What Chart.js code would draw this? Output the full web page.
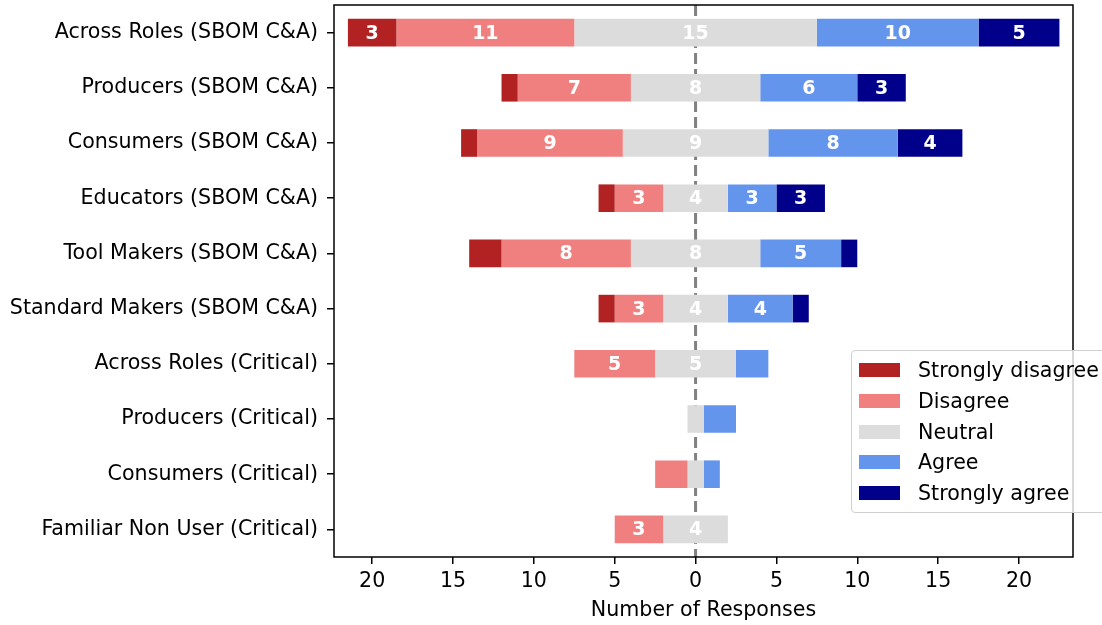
<!DOCTYPE html>
<html>
<head>
<meta charset="utf-8">
<script src="https://cdn.jsdelivr.net/npm/chart.js@4/dist/chart.umd.min.js"></script>
<style>
  html, body { margin: 0; padding: 0; background: #fff; overflow: hidden; }
  #wrap { position: relative; width: 1102px; height: 625px; }
  #legend {
    position: absolute; left: 851px; top: 350px; width: 270px; height: 161px;
    border: 1px solid #d0d0d0; border-radius: 4px; background: rgba(255,255,255,0.8);
    font-family: "DejaVu Sans", sans-serif; font-size: 20.6px; color: #000;
  }
  .item { position: absolute; left: 0; height: 24px; }
  .swatch { position: absolute; left: 7px; top: 5px; width: 41px; height: 14px; }
  .label { position: absolute; left: 66px; top: 0; line-height: 24px; white-space: nowrap; }
</style>
</head>
<body>
<div id="wrap">
  <canvas id="likertChart" width="1102" height="625"></canvas>
  <div id="legend"></div>
</div>
<script>
const categories = [
  "Across Roles (SBOM C&A)",
  "Producers (SBOM C&A)",
  "Consumers (SBOM C&A)",
  "Educators (SBOM C&A)",
  "Tool Makers (SBOM C&A)",
  "Standard Makers (SBOM C&A)",
  "Across Roles (Critical)",
  "Producers (Critical)",
  "Consumers (Critical)",
  "Familiar Non User (Critical)"
];
const responseLabels = ["Strongly disagree", "Disagree", "Neutral", "Agree", "Strongly agree"];
const responseColors = ["#b22222", "#f08080", "#dcdcdc", "#6495ed", "#00008b"];

const stronglyDisagree = [3, 1, 1, 1, 2, 1, 0, 0, 0, 0];
const disagree         = [11, 7, 9, 3, 8, 3, 5, 0, 2, 3];
const neutral          = [15, 8, 9, 4, 8, 4, 5, 1, 1, 4];
const agree            = [10, 6, 8, 3, 5, 4, 2, 2, 1, 0];
const stronglyAgree    = [5, 3, 4, 3, 1, 1, 0, 0, 0, 0];

const xTicks = [-20, -15, -10, -5, 0, 5, 10, 15, 20];

const counts = [stronglyDisagree, disagree, neutral, agree, stronglyAgree];

// start of each segment, neutral centred on zero
function segmentStart(k, j) {
  const half = neutral[j] / 2;
  if (k === 0) return -(half + disagree[j] + stronglyDisagree[j]);
  if (k === 1) return -(half + disagree[j]);
  if (k === 2) return -half;
  if (k === 3) return half;
  return half + agree[j];
}

const datasets = counts.map((vals, k) => ({
  label: responseLabels[k],
  data: vals.map((v, j) => v > 0 ? [segmentStart(k, j), segmentStart(k, j) + v] : null),
  backgroundColor: responseColors[k],
  borderWidth: 0,
  grouped: false,
  categoryPercentage: 1,
  barPercentage: 0.5
}));

const zeroLine = {
  id: "zeroLine",
  beforeDatasetsDraw(chart) {
    const { ctx, chartArea, scales } = chart;
    const x = scales.x.getPixelForValue(0);
    ctx.save();
    ctx.strokeStyle = "#808080";
    ctx.lineWidth = 3;
    ctx.setLineDash([11, 5]);
    ctx.beginPath();
    ctx.moveTo(x, chartArea.top);
    ctx.lineTo(x, chartArea.bottom);
    ctx.stroke();
    ctx.restore();
  }
};

const barText = {
  id: "barText",
  afterDatasetsDraw(chart) {
    const ctx = chart.ctx;
    ctx.save();
    ctx.fillStyle = "#fff";
    ctx.font = "bold 19px 'DejaVu Sans'";
    ctx.textAlign = "center";
    ctx.textBaseline = "middle";
    counts.forEach((vals, k) => {
      chart.getDatasetMeta(k).data.forEach((bar, j) => {
        if (vals[j] >= 3) {
          const p = bar.getCenterPoint();
          ctx.fillText(String(vals[j]), p.x, p.y + 1);
        }
      });
    });
    ctx.restore();
  }
};

const frame = {
  id: "frame",
  afterDraw(chart) {
    const { ctx, chartArea } = chart;
    ctx.save();
    ctx.strokeStyle = "#000";
    ctx.lineWidth = 1.5;
    ctx.strokeRect(chartArea.left, chartArea.top, chartArea.right - chartArea.left, chartArea.bottom - chartArea.top);
    ctx.restore();
  }
};

const tickFont = { family: "DejaVu Sans", size: 20.6 };

new Chart(document.getElementById("likertChart"), {
  type: "bar",
  data: { labels: categories, datasets },
  options: {
    indexAxis: "y",
    responsive: false,
    animation: false,
    layout: { padding: { top: 5, right: 29, left: 0, bottom: 0 } },
    plugins: { legend: { display: false }, tooltip: { enabled: false } },
    scales: {
      x: {
        type: "linear",
        min: -22.36,
        max: 23.34,
        afterFit: (s) => { s.height = 68; s.paddingLeft = 0; s.paddingRight = 0; },
        afterBuildTicks: (s) => { s.ticks = xTicks.map((v) => ({ value: v })); },
        ticks: { color: "#000", font: tickFont, padding: 5, callback: (v) => Math.abs(v), maxRotation: 0, autoSkip: false },
        grid: { display: true, drawOnChartArea: false, drawTicks: true, tickLength: 7, color: "#000", lineWidth: 1.5 },
        border: { display: false },
        title: { display: true, text: "Number of Responses", color: "#000", font: tickFont, padding: { top: 0, bottom: 2 } }
      },
      y: {
        afterFit: (s) => { s.width = 334; s.paddingTop = 0; s.paddingBottom = 0; },
        ticks: { color: "#000", font: tickFont, padding: 9, autoSkip: false },
        grid: { display: true, offset: false, drawOnChartArea: false, drawTicks: true, tickLength: 7, color: "#000", lineWidth: 1.5 },
        border: { display: false }
      }
    }
  },
  plugins: [zeroLine, barText, frame]
});

const legendEl = document.getElementById("legend");
responseLabels.forEach((name, k) => {
  const item = document.createElement("div");
  item.className = "item";
  item.style.top = (7 + k * 30.8) + "px";
  item.innerHTML = `<span class="swatch" style="background:${responseColors[k]}"></span><span class="label">${name}</span>`;
  legendEl.appendChild(item);
});
</script>
</body>
</html>
